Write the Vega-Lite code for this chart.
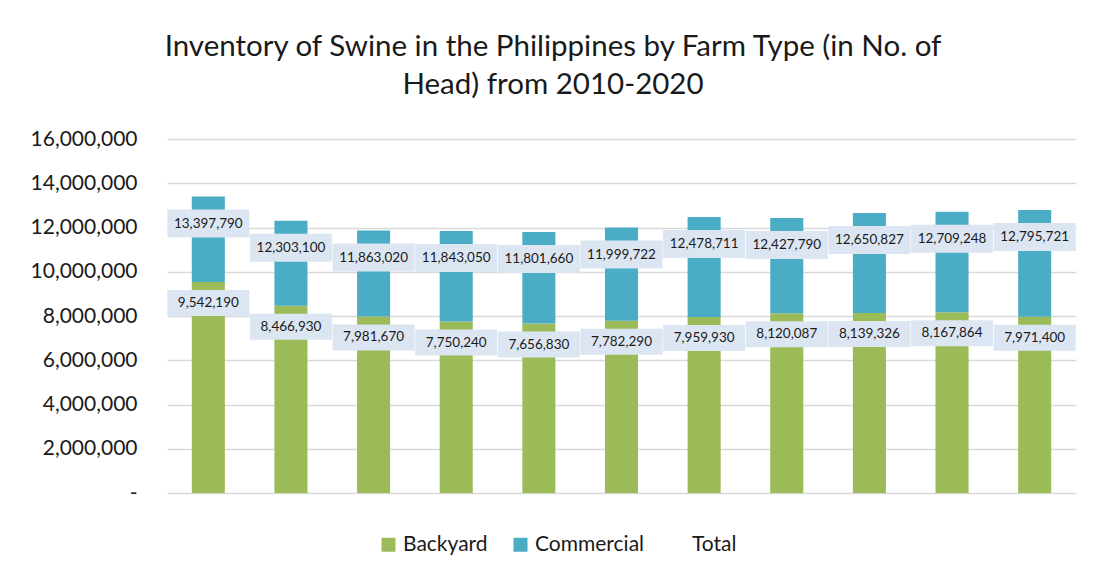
{
  "$schema": "https://vega.github.io/schema/vega-lite/v6.json",
  "width": 909,
  "height": 354,
  "autosize": {"type": "none"},
  "padding": {"left": 167, "top": 139, "right": 18, "bottom": 86},
  "background": "white",
  "title": {
    "text": ["Inventory of Swine in the Philippines  by Farm Type (in No. of", "Head) from 2010-2020"],
    "font": "Lato",
    "fontSize": 29.5,
    "fontWeight": "normal",
    "color": "#1a1a1a",
    "lineHeight": 38,
    "anchor": "middle",
    "frame": "bounds",
    "offset": 28
  },
  "datasets": {
    "parts": [
      {"year": "2010", "type": "Backyard", "value": 9542190},
      {"year": "2010", "type": "Commercial", "value": 3855600},
      {"year": "2011", "type": "Backyard", "value": 8466930},
      {"year": "2011", "type": "Commercial", "value": 3836170},
      {"year": "2012", "type": "Backyard", "value": 7981670},
      {"year": "2012", "type": "Commercial", "value": 3881350},
      {"year": "2013", "type": "Backyard", "value": 7750240},
      {"year": "2013", "type": "Commercial", "value": 4092810},
      {"year": "2014", "type": "Backyard", "value": 7656830},
      {"year": "2014", "type": "Commercial", "value": 4144830},
      {"year": "2015", "type": "Backyard", "value": 7782290},
      {"year": "2015", "type": "Commercial", "value": 4217432},
      {"year": "2016", "type": "Backyard", "value": 7959930},
      {"year": "2016", "type": "Commercial", "value": 4518781},
      {"year": "2017", "type": "Backyard", "value": 8120087},
      {"year": "2017", "type": "Commercial", "value": 4307703},
      {"year": "2018", "type": "Backyard", "value": 8139326},
      {"year": "2018", "type": "Commercial", "value": 4511501},
      {"year": "2019", "type": "Backyard", "value": 8167864},
      {"year": "2019", "type": "Commercial", "value": 4541384},
      {"year": "2020", "type": "Backyard", "value": 7971400},
      {"year": "2020", "type": "Commercial", "value": 4824321}
    ],
    "totals": [
      {"year": "2010", "backyard": 9542190, "total": 13397790},
      {"year": "2011", "backyard": 8466930, "total": 12303100},
      {"year": "2012", "backyard": 7981670, "total": 11863020},
      {"year": "2013", "backyard": 7750240, "total": 11843050},
      {"year": "2014", "backyard": 7656830, "total": 11801660},
      {"year": "2015", "backyard": 7782290, "total": 11999722},
      {"year": "2016", "backyard": 7959930, "total": 12478711},
      {"year": "2017", "backyard": 8120087, "total": 12427790},
      {"year": "2018", "backyard": 8139326, "total": 12650827},
      {"year": "2019", "backyard": 8167864, "total": 12709248},
      {"year": "2020", "backyard": 7971400, "total": 12795721}
    ]
  },
  "encoding": {
    "x": {
      "field": "year",
      "type": "ordinal",
      "axis": null,
      "scale": {"paddingInner": 0.6, "paddingOuter": 0.3}
    }
  },
  "layer": [
    {
      "data": {"name": "parts"},
      "mark": {"type": "bar"},
      "encoding": {
        "y": {
          "field": "value",
          "type": "quantitative",
          "aggregate": "sum",
          "stack": "zero",
          "title": null,
          "scale": {"domain": [0, 16000000], "nice": false},
          "axis": {
            "title": null,
            "values": [0, 2000000, 4000000, 6000000, 8000000, 10000000, 12000000, 14000000, 16000000],
            "labelExpr": "datum.value == 0 ? '-' : format(datum.value, ',')",
            "labelFont": "Lato",
            "labelFontSize": 21,
            "labelColor": "#1a1a1a",
            "labelPadding": 30,
            "ticks": false,
            "domain": false,
            "grid": true,
            "gridColor": "#D9D9D9",
            "gridWidth": 1.5
          }
        },
        "color": {
          "field": "type",
          "type": "nominal",
          "scale": {
            "domain": ["Backyard", "Commercial", "Total"],
            "range": ["#9BBB59", "#4BACC6", "transparent"]
          },
          "legend": {
            "title": null,
            "orient": "none",
            "direction": "horizontal",
            "legendX": 211,
            "legendY": 395,
            "symbolType": "square",
            "symbolSize": 196,
            "symbolStrokeWidth": 0,
            "symbolOpacity": 1,
            "labelFont": "Lato",
            "labelFontSize": 21,
            "labelColor": "#1a1a1a",
            "labelOffset": 4,
            "columnPadding": 22
          }
        },
        "order": {"field": "type", "sort": "ascending"}
      }
    },
    {
      "data": {"name": "totals"},
      "mark": {"type": "tick", "color": "#DCE6F2", "opacity": 1, "size": 82, "thickness": 26, "yOffset": 21},
      "encoding": {
        "y": {"field": "backyard", "type": "quantitative", "title": null}
      }
    },
    {
      "data": {"name": "totals"},
      "mark": {"type": "text", "font": "Lato", "fontSize": 13.5, "color": "#1a1a1a", "dy": 21, "baseline": "middle"},
      "encoding": {
        "y": {"field": "backyard", "type": "quantitative", "title": null},
        "text": {"field": "backyard", "type": "quantitative", "format": ","}
      }
    },
    {
      "data": {"name": "totals"},
      "mark": {"type": "tick", "color": "#DCE6F2", "opacity": 1, "size": 82, "thickness": 28, "yOffset": 27},
      "encoding": {
        "y": {"field": "total", "type": "quantitative", "title": null}
      }
    },
    {
      "data": {"name": "totals"},
      "mark": {"type": "text", "font": "Lato", "fontSize": 13.5, "color": "#1a1a1a", "dy": 27, "baseline": "middle"},
      "encoding": {
        "y": {"field": "total", "type": "quantitative", "title": null},
        "text": {"field": "total", "type": "quantitative", "format": ","}
      }
    }
  ],
  "config": {
    "view": {"stroke": null}
  }
}
